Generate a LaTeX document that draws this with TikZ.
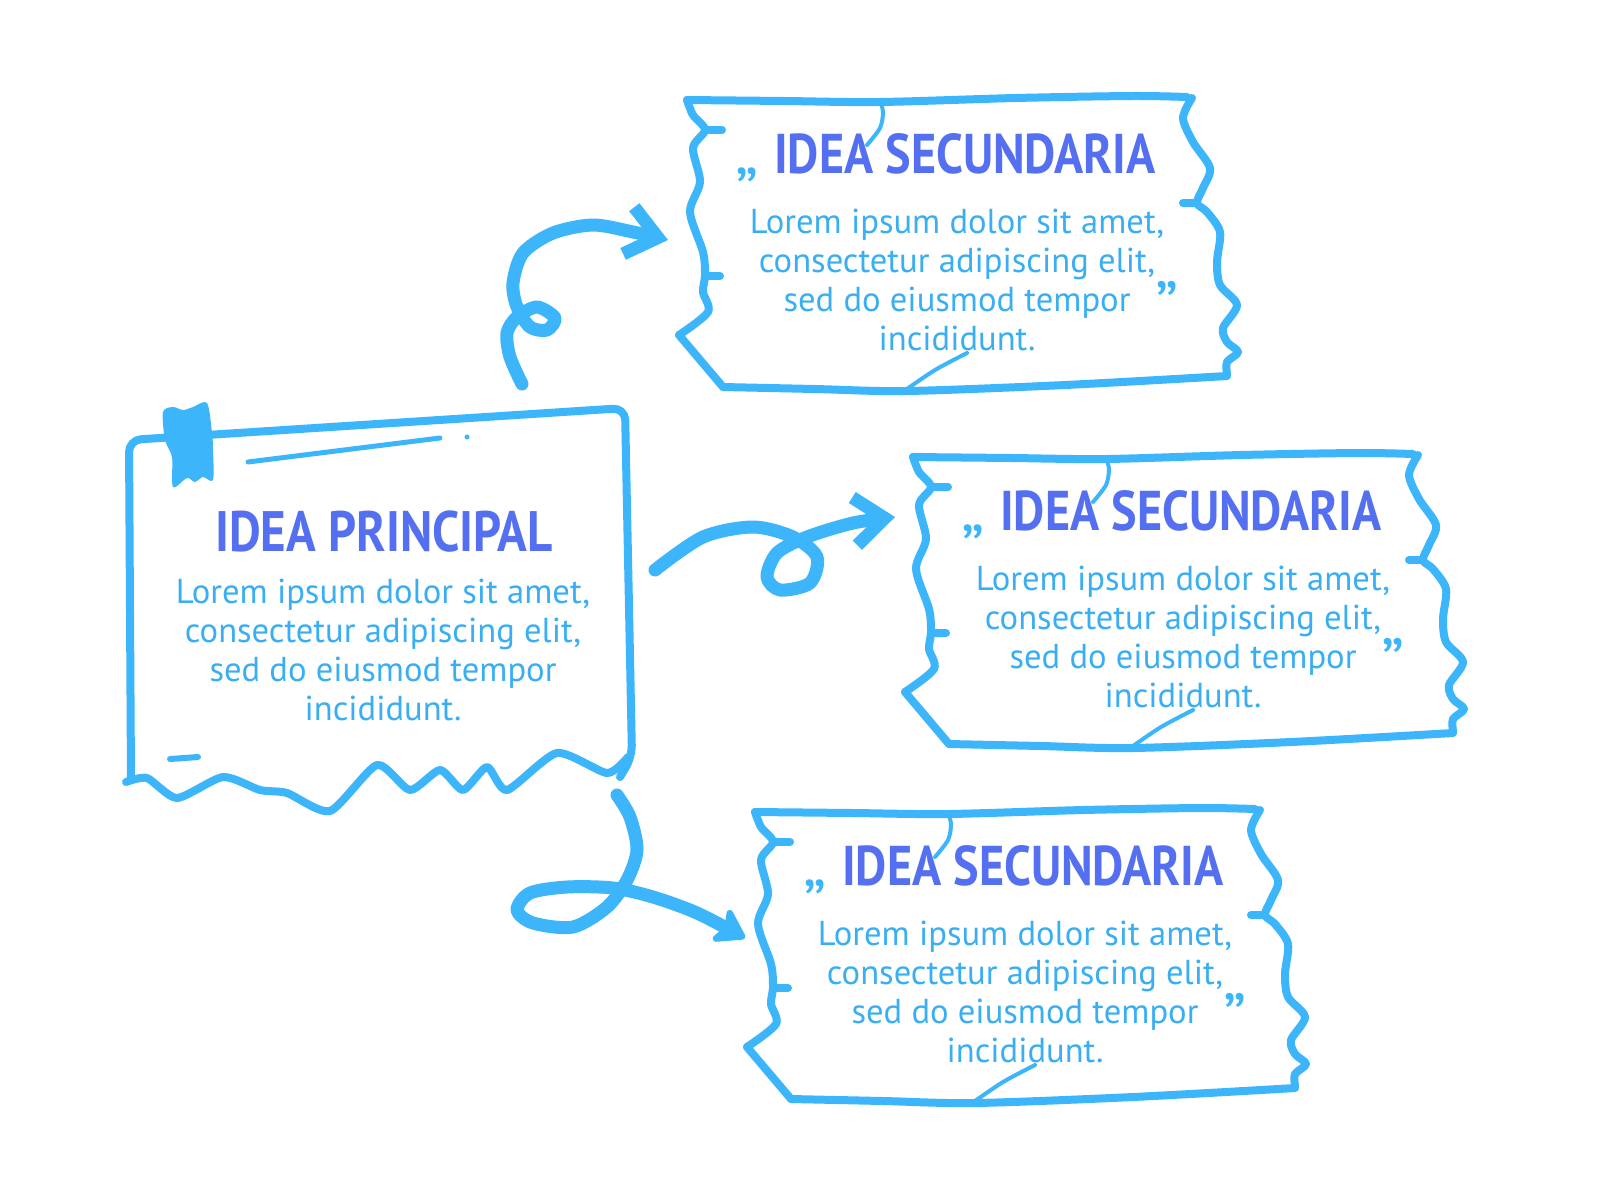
\documentclass[tikz,border=0pt]{standalone}
\usepackage{fontspec}
\setmainfont{PT Sans}
\newfontfamily\titlefont[FakeStretch=0.86]{PT Sans}
\usetikzlibrary{arrows.meta}
\definecolor{sketch}{HTML}{3DB5FA}
\definecolor{headcol}{HTML}{5470F0}
\definecolor{bodycol}{HTML}{3AAEF2}
\tikzset{
	edge/.style={draw=sketch,line width=4pt,line cap=round,line join=round},
	crack/.style={draw=sketch,line width=2pt,line cap=round,line join=round},
	curl/.style={draw=sketch,line width=6.5pt,line cap=round,line join=round},
	frame/.style={draw=none,inner sep=0pt,minimum width=270pt,minimum height=145pt},
	headline/.style={font=\titlefont\bfseries\fontsize{28}{30}\selectfont,text=headcol,inner sep=0pt,anchor=base},
	bodytext/.style={font=\fontsize{17.3}{19.5}\selectfont,text=bodycol,align=center,inner sep=0pt},
	quote/.style={font=\fontsize{34}{34}\selectfont,text=sketch,inner sep=0pt},
}
% torn card for one secondary idea: name, x, y
\newcommand\ideabox[3]{%
	\begin{scope}[shift={(#2,#3)}]
		\node[frame] (#1) at (292,148) {};
		\draw[edge] plot[smooth,tension=.5] coordinates {(22,5) (120,6) (215,7) (350,3) (467,1) (522,2)};
		\draw[edge] plot[smooth,tension=.5] coordinates {(22,5) (28,20) (40,35) (28,53) (35,87) (25,117) (38,157) (40,180) (38,197) (43,217) (14,240)};
		\draw[edge] (14,240) -- (58,292);
		\draw[edge] plot[smooth,tension=.5] coordinates {(58,292) (150,294) (242,296) (400,290) (562,281)};
		\draw[edge] plot[smooth,tension=.5] coordinates {(527,3) (518,23) (528,47) (545,73) (538,93) (532,108) (542,117) (555,137) (552,167) (555,190) (572,210) (558,233) (562,247) (573,257) (562,267) (562,279)};
		\draw[edge] (40,35) -- (57,35);
		\draw[edge] (40,181) -- (55,181);
		\draw[edge] (532,108) -- (518,108);
		\draw[crack] plot[smooth] coordinates {(215,6) (218,17) (215,33) (202,50)};
		\draw[crack] plot[smooth] coordinates {(242,294) (270,275) (302,258)};
		\node[headline] (#1Title) at (300,78) {IDEA SECUNDARIA};
		\node[bodytext] (#1Text) at (292,185) {Lorem ipsum dolor sit amet,\\consectetur adipiscing elit,\\sed do eiusmod tempor\\incididunt.};
		\node[quote] (#1Open) at (82,80) {„};
		\node[quote] (#1Close) at (502,210) {”};
	\end{scope}}
\begin{document}
\begin{tikzpicture}[x=0.5pt,y=-0.5pt]
	\useasboundingbox[fill=white] (0,0) rectangle (1600,1200);

	% main idea
	\node[frame,minimum width=250pt,minimum height=190pt] (main) at (378,600) {};
	\draw[edge,rounded corners=6pt] (131,780) -- (129,440) -- (625,408) -- (632,757) -- (620,777);
	\draw[edge] plot[smooth,tension=.4] coordinates {(126,782) (147,778) (177,798) (223,777) (260,790) (287,793) (330,811) (377,765) (410,790) (440,770) (463,790) (487,767) (507,790) (557,753) (607,773) (628,757)};
	\fill[sketch] plot[smooth cycle,tension=.5] coordinates {(163,412) (173,407) (183,410) (193,407) (207,403) (212,433) (213,450) (213,480) (203,477) (195,482) (187,478) (173,487) (172,457) (165,440)};
	\draw[crack,line width=2.5pt] (248,462) -- (440,438);
	\fill[sketch] (467,437) circle (2.5);
	\draw[crack,line width=3pt] (170,759) -- (198,757);
	\node[headline,font=\titlefont\bfseries\fontsize{28.5}{30}\selectfont] (mainTitle) at (384,551) {IDEA PRINCIPAL};
	\node[bodytext] (mainText) at (383,650) {Lorem ipsum dolor sit amet,\\consectetur adipiscing elit,\\sed do eiusmod tempor\\incididunt.};

	% secondary ideas
	\ideabox{sA}{665}{95}
	\ideabox{sB}{891}{452}
	\ideabox{sC}{733}{807}

	% curly arrows
	\coordinate (t1) at (522,384);
	\coordinate (h1) at (668,240);
	\coordinate (t2) at (655,570);
	\coordinate (h2) at (895,517);
	\coordinate (t3) at (617,795);
	\coordinate (h3) at (745,938);
	\draw[curl,-{Straight Barb[length=15pt,width=24pt]}] plot[smooth] coordinates {(t1) (510,357) (507,333) (517,317) (537,307) (555,318) (547,330) (530,327) (517,307) (513,283) (523,253) (553,233) (593,225) (633,232) (h1)};
	\draw[curl,-{Straight Barb[length=15pt,width=24pt]}] plot[smooth] coordinates {(t2) (703,537) (753,527) (793,537) (817,557) (810,583) (780,590) (767,577) (777,553) (807,537) (853,523) (h2)};
	\draw[curl,-{Stealth[round,length=17pt,width=22pt,inset=4pt]}] plot[smooth] coordinates {(t3) (630,817) (637,850) (627,880) (607,907) (573,927) (533,923) (517,910) (530,893) (567,887) (613,888) (653,897) (697,913) (h3)};
\end{tikzpicture}
\end{document}
